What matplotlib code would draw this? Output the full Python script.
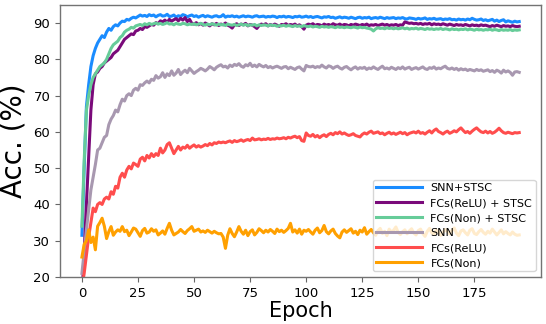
import matplotlib
matplotlib.use("Agg")
import matplotlib.pyplot as plt
import numpy as np

labels = ["SNN+STSC", "FCs(ReLU) + STSC", "FCs(Non) + STSC", "SNN", "FCs(ReLU)", "FCs(Non)"]
colors = ["#1a8cff", "#7a0a7a", "#66cc99", "#a898b0", "#ff4d4d", "#ffa000"]

snn_stsc = [
    31.5, 50, 67, 73, 78, 81, 83, 84.5, 85.5, 86.5,
    86, 87.5, 88.5, 88, 89, 89.5, 89.2, 90, 90.5, 90.4,
    91, 90.8, 91.3, 91.6, 91.4, 91.8, 92.2, 91.9, 92.1, 91.8,
    92.3, 92.0, 92.2, 91.7, 92.1, 92.3, 91.9, 92.0, 92.4, 91.8,
    91.9, 92.2, 91.6, 92.0, 91.8, 92.3, 92.1, 91.7, 92.0, 92.2,
    91.8, 92.0, 91.6, 91.9, 92.1, 91.7, 92.0, 91.8, 91.6, 91.9,
    92.0, 91.7, 91.8, 92.3, 91.6, 91.9, 91.8, 92.0, 91.7, 91.9,
    91.6, 91.8, 92.0, 91.7, 91.9, 91.8, 91.6, 91.9, 92.0, 91.7,
    91.8, 91.9, 91.6, 91.8, 91.7, 91.9, 91.8, 91.5, 91.8, 91.7,
    91.9, 91.6, 91.8, 91.7, 91.5, 91.8, 91.7, 91.9, 91.6, 91.7,
    91.9, 91.6, 91.8, 91.5, 91.7, 91.8, 91.6, 91.4, 91.7, 91.6,
    91.8, 91.5, 91.6, 91.3, 91.5, 91.7, 91.4, 91.6, 91.5, 91.3,
    91.6, 91.4, 91.2, 91.5, 91.6, 91.3, 91.5, 91.4, 91.6, 91.2,
    91.4, 91.5, 91.3, 91.6, 91.4, 91.2, 91.5, 91.3, 91.4, 91.5,
    91.2, 91.4, 91.3, 91.5, 91.2, 91.1, 91.4, 91.3, 91.2, 91.0,
    91.3, 91.1, 91.2, 91.4, 91.0, 91.2, 91.1, 91.3, 91.0, 91.1,
    91.2, 90.9, 91.1, 91.0, 91.2, 90.9, 91.0, 90.8, 91.1, 90.9,
    91.0, 90.8, 91.1, 90.9, 91.3, 91.0, 90.8, 90.9, 91.1, 90.7,
    90.9, 90.6, 90.8, 91.0, 90.5, 90.8, 90.4, 90.7, 90.9, 90.3,
    90.6, 90.4, 90.2, 90.5, 90.3, 90.4,
]

relu_stsc = [
    14, 27, 40, 53, 66, 73, 76, 76.5, 77.5, 78,
    79, 79.5, 80, 80.5, 81.5, 82, 82.5, 83.5, 84.5, 85.5,
    86, 86.5, 87, 86.8, 87.8, 88, 88.5, 88.2, 89, 88.8,
    89.2, 89.6, 89.4, 90.1, 89.8, 90.6, 90.3, 90.8, 90.2, 91.0,
    90.5, 90.9, 91.2, 90.6, 91.3, 90.8, 91.5, 90.4, 91.0, 89.9,
    89.7, 90.1, 89.5, 89.9, 89.4, 90.0, 89.6, 89.2, 89.8, 89.5,
    89.9, 89.3, 89.7, 89.5, 90.0, 89.4, 89.1, 88.6, 89.5, 89.8,
    89.3, 89.7, 89.5, 89.9, 89.2, 89.6, 89.4, 89.0, 88.5, 89.3,
    89.7, 89.5, 89.8, 89.2, 89.6, 89.3, 89.7, 89.4, 89.1, 89.6,
    89.5, 89.8, 89.3, 89.6, 89.4, 89.7, 89.2, 89.5, 89.0, 88.3,
    89.4, 89.7, 89.5, 89.8, 89.3, 89.6, 89.5, 89.2, 89.7, 89.4,
    89.6, 89.3, 89.8, 89.5, 89.4, 89.7, 89.3, 89.6, 89.5, 89.2,
    89.6, 89.4, 89.7, 89.5, 89.3, 89.6, 89.4, 89.7, 89.3, 89.5,
    89.4, 89.6, 89.3, 89.5, 89.7, 89.4, 89.6, 89.3, 89.5, 89.4,
    89.6, 89.3, 89.5, 89.4, 90.3, 90.1, 89.9, 90.0, 89.8, 89.9,
    89.7, 89.9, 89.6, 89.8, 89.7, 89.9, 89.5, 89.8, 89.6, 89.7,
    89.5, 89.8, 89.6, 89.4, 89.7, 89.5, 89.3, 89.6, 89.4, 89.5,
    89.3, 89.6, 89.4, 89.2, 89.5, 89.3, 89.4, 89.2, 89.5, 89.3,
    89.4, 89.2, 89.0, 89.3, 89.1, 89.4, 89.2, 89.0, 89.3, 89.1,
    89.2, 89.0, 89.3, 89.1, 89.0, 89.1,
]

non_stsc = [
    34, 52, 66, 70, 73, 75, 76, 77, 78, 78.5,
    79, 80, 81.5, 83, 84, 84.5, 85, 86, 86.5, 87.5,
    88, 88.3, 88.8, 88.6, 89.2, 89.4, 89.6, 89.3, 89.8, 89.5,
    89.9, 89.6, 89.8, 90.0, 89.7, 89.9, 89.6, 89.8, 90.1, 89.7,
    89.8, 89.5, 89.9, 89.7, 89.6, 89.9, 89.8, 89.5, 89.7, 89.6,
    89.8, 89.5, 89.7, 89.9, 89.6, 89.4, 89.7, 89.5, 89.8, 89.6,
    89.4, 89.7, 89.5, 89.6, 89.3, 89.7, 89.5, 89.4, 89.6, 89.3,
    89.5, 89.7, 89.4, 89.6, 89.3, 89.5, 89.4, 89.6, 89.2, 89.5,
    89.3, 89.5, 89.4, 89.2, 89.5, 89.3, 89.4, 89.1, 89.3, 89.2,
    89.4, 89.1, 89.3, 89.2, 89.0, 89.3, 89.1, 89.2, 89.0, 89.3,
    89.1, 89.0, 89.2, 88.9, 89.1, 89.0, 88.8, 89.1, 88.9, 89.0,
    88.8, 89.0, 88.9, 88.7, 89.0, 88.8, 88.9, 88.7, 88.9, 88.8,
    88.7, 88.9, 88.8, 88.6, 88.9, 88.7, 88.8, 88.6, 88.5, 88.3,
    87.8, 88.4, 88.7, 88.5, 88.6, 88.4, 88.7, 88.5, 88.6, 88.4,
    88.6, 88.4, 88.5, 88.7, 88.4, 88.6, 88.3, 88.5, 88.4, 88.6,
    88.3, 88.5, 88.4, 88.2, 88.5, 88.3, 88.4, 88.2, 88.4, 88.3,
    88.5, 88.2, 88.4, 88.3, 88.1, 88.4, 88.2, 88.3, 88.1, 88.3,
    88.2, 88.4, 88.1, 88.3, 88.2, 88.0, 88.3, 88.1, 88.2, 88.0,
    88.2, 88.1, 88.3, 88.0, 88.2, 88.1, 87.9, 88.2, 88.0, 88.1,
    88.0, 88.2, 87.9, 88.1, 88.0, 88.1,
]

snn = [
    21, 27, 33, 38.5, 44, 47.5, 51, 55, 55.5, 57,
    58.5, 59, 62, 63.5, 64.5, 66, 65.5, 67.5, 69, 68.5,
    70, 70.5, 70, 71.5, 72, 71.5, 73, 72.8, 73.5, 74,
    73.5, 74.5, 74.2, 75.5, 74.8, 75.2, 76.3, 75, 76, 75.5,
    76.8, 75.6, 76.2, 77.2, 75.8, 76.5, 77, 76.3, 77.5, 76.8,
    76.1, 76.6, 77.0, 77.5, 77.2, 76.8, 77.3, 78.0, 77.6, 77.1,
    77.8, 78.2, 78.5, 77.9, 78.1, 77.6, 78.4, 78.0, 78.6, 78.3,
    78.8, 78.1, 77.8, 78.5, 78.2, 78.9, 78.0, 78.4, 77.9, 78.6,
    78.2, 77.9, 78.3, 77.7, 78.0, 77.6, 77.9, 78.1, 77.8, 77.5,
    77.9, 78.0, 77.4, 77.8, 77.5, 77.2, 77.7, 77.9, 77.3, 76.8,
    78.3, 78.0, 77.9, 78.1, 77.7, 78.0, 77.8, 78.4, 77.9, 77.6,
    78.2, 78.0, 77.5, 77.9, 78.1, 77.6, 77.3, 77.8, 78.0, 77.5,
    77.1, 77.6, 77.9, 77.3, 77.7, 77.5, 77.8, 77.2, 77.6, 77.4,
    77.9, 77.5, 77.2, 77.7, 78.1, 77.4, 77.6, 77.3, 77.8, 77.5,
    77.2, 77.7, 77.4, 77.9, 77.3, 77.6, 77.8, 77.2, 77.5, 77.7,
    77.3, 77.6, 77.9, 77.4, 77.2, 77.7, 77.5, 77.9, 77.3, 77.6,
    77.4, 77.8, 78.1, 77.5, 77.3, 77.6, 77.2, 77.5, 77.0, 77.4,
    77.1, 77.3, 76.9, 77.2, 77.0, 76.8, 77.2, 76.9, 77.1, 76.7,
    76.9, 77.1, 76.6, 76.9, 76.4, 77.0, 76.7, 76.2, 77.0, 76.5,
    76.8, 76.4, 75.6, 76.5, 76.6, 76.4,
]

relu = [
    17, 21, 26, 31, 35, 39, 38, 40, 40.5, 40,
    41.5, 42, 41.5, 43.5, 42.8, 45, 44.5, 47.5, 48.6, 47.5,
    49.5, 50.5, 49.8, 51.4, 51, 50.5, 52.5, 53, 52, 53.5,
    52.8, 54, 53.2, 54, 53.5, 55.5, 54.2, 55, 56.5, 57,
    55.5, 54, 55, 56, 55, 55.8, 55.5, 56.3, 55.5, 56,
    56.4, 55.8, 56.2, 55.8, 56.1, 56.5, 56.2, 56.8, 56.4, 57,
    56.8, 57.2, 57.0, 57.2, 57.0, 57.3, 57.5, 57.1, 57.6, 57.3,
    57.5, 57.8, 57.4, 57.7, 57.9, 57.6, 58.3, 57.8, 57.9, 58.1,
    57.8, 58.0, 57.9, 58.2, 57.9, 58.1, 58.0, 58.3, 58.1, 58.2,
    58.4, 58.1, 58.5, 58.3, 58.6, 58.8, 58.4, 58.7, 57.6, 57.4,
    59.7, 59.0, 58.8, 59.3, 58.6, 59.0, 58.4, 58.9, 59.2, 58.7,
    59.3, 59.6, 59.2, 59.8, 59.5, 60.0, 59.4, 59.7, 59.3, 59.0,
    59.2, 59.5, 59.0, 58.8, 58.6, 59.3, 59.7, 59.4, 59.9, 60.2,
    59.6, 59.8, 60.0, 59.5, 59.7, 59.2, 59.6, 59.9, 59.4, 59.7,
    59.3, 59.6, 59.9, 59.5, 59.8, 59.2, 59.6, 59.8, 60.0, 59.7,
    60.2, 59.6, 59.8, 59.4, 59.9, 60.3, 59.7, 60.4, 60.8, 60.1,
    59.8, 59.4, 59.9, 60.2, 59.6, 59.9, 60.3, 60.0, 60.6, 61.1,
    60.4, 59.8, 60.1, 59.6, 60.2, 60.7, 61.1, 60.5, 60.0, 59.8,
    60.2, 59.7, 60.1, 59.6, 59.9, 60.4, 61.0, 60.3, 59.8, 59.6,
    59.9, 59.7, 59.5, 59.8, 59.7, 59.8,
]

non = [
    25.5, 29, 30, 33, 29.5, 31, 27.5, 34, 35, 36.2,
    34, 30.6, 32.5, 33.9, 31.5, 32.4, 33, 32.6, 33.9, 32.5,
    32.9, 31.4, 32.4, 33.5, 33.2, 32.2, 31.2, 32.8, 33.4, 32.1,
    32.4, 33.3, 32.6, 33.0, 31.6, 32.1, 32.7, 31.8, 33.4, 34.8,
    32.9, 31.6, 32.0, 32.4, 33.1, 32.5, 32.0, 32.8, 33.3, 33.9,
    32.6, 32.9, 33.2, 32.4, 32.7, 32.3, 32.9, 32.5, 32.1, 32.6,
    32.2, 31.9, 32.0, 31.0, 27.9, 31.5, 33.3, 32.0, 31.1, 32.4,
    33.9, 32.6, 31.8, 32.9, 31.4, 32.5, 33.0, 31.6, 32.3, 33.3,
    32.8, 32.2, 32.9, 32.4, 33.1, 32.6, 32.0, 33.2, 32.5, 32.9,
    32.3, 32.8, 33.4, 34.8, 32.4, 33.0, 32.1, 33.2, 31.8, 32.9,
    32.6, 33.1, 32.4, 31.8, 32.9, 33.5, 32.2, 32.8, 34.2, 32.5,
    31.9, 32.7, 33.2, 32.0, 31.3, 30.8, 32.4, 33.0, 32.3, 32.8,
    33.3, 32.1, 32.6, 31.7, 32.9, 32.4, 33.6, 31.8, 32.5, 33.1,
    32.2, 31.5, 32.8, 33.4, 32.0, 32.6, 31.4, 33.2, 32.4, 32.9,
    33.8, 32.3, 31.7, 32.5, 33.0, 31.9, 32.7, 33.3, 32.1, 31.6,
    32.8, 33.2, 32.0, 31.2, 32.6, 33.4, 32.2, 31.8, 32.9, 32.4,
    31.5, 32.3, 33.1, 32.6, 31.9, 32.8, 33.5, 32.1, 31.4, 32.7,
    33.0, 32.2, 31.6, 32.9, 33.3, 32.0, 31.7, 32.5, 33.1, 32.3,
    31.8, 32.6, 32.1, 33.2, 32.4, 31.6, 32.3, 33.0, 31.9, 32.5,
    32.0, 31.6, 32.4, 31.8, 31.5, 31.6,
]

series = [snn_stsc, relu_stsc, non_stsc, snn, relu, non]

fig = plt.figure(figsize=(5.46, 3.24), dpi=100)
ax = fig.add_axes([0.110, 0.145, 0.881, 0.840])

for vals, lab, col in zip(series, labels, colors):
    ep = np.arange(len(vals))
    ax.plot(ep, vals, color=col, lw=2.2, label=lab)

ax.set_ylim(20, 95)
ax.set_yticks(range(20, 100, 10))
ax.set_xticks(range(0, 200, 25))
ax.tick_params(labelsize=9.5, color="0.4")
for s in ax.spines.values():
    s.set_color("0.45")
    s.set_linewidth(1.0)

ax.set_xlabel("Epoch", fontsize=15, labelpad=1)
ax.set_ylabel("Acc. (%)", fontsize=20)

ax.legend(loc="lower right", fontsize=8, handlelength=4.1, borderpad=0.3,
          labelspacing=0.45)

fig.savefig("out.png", dpi=100)
